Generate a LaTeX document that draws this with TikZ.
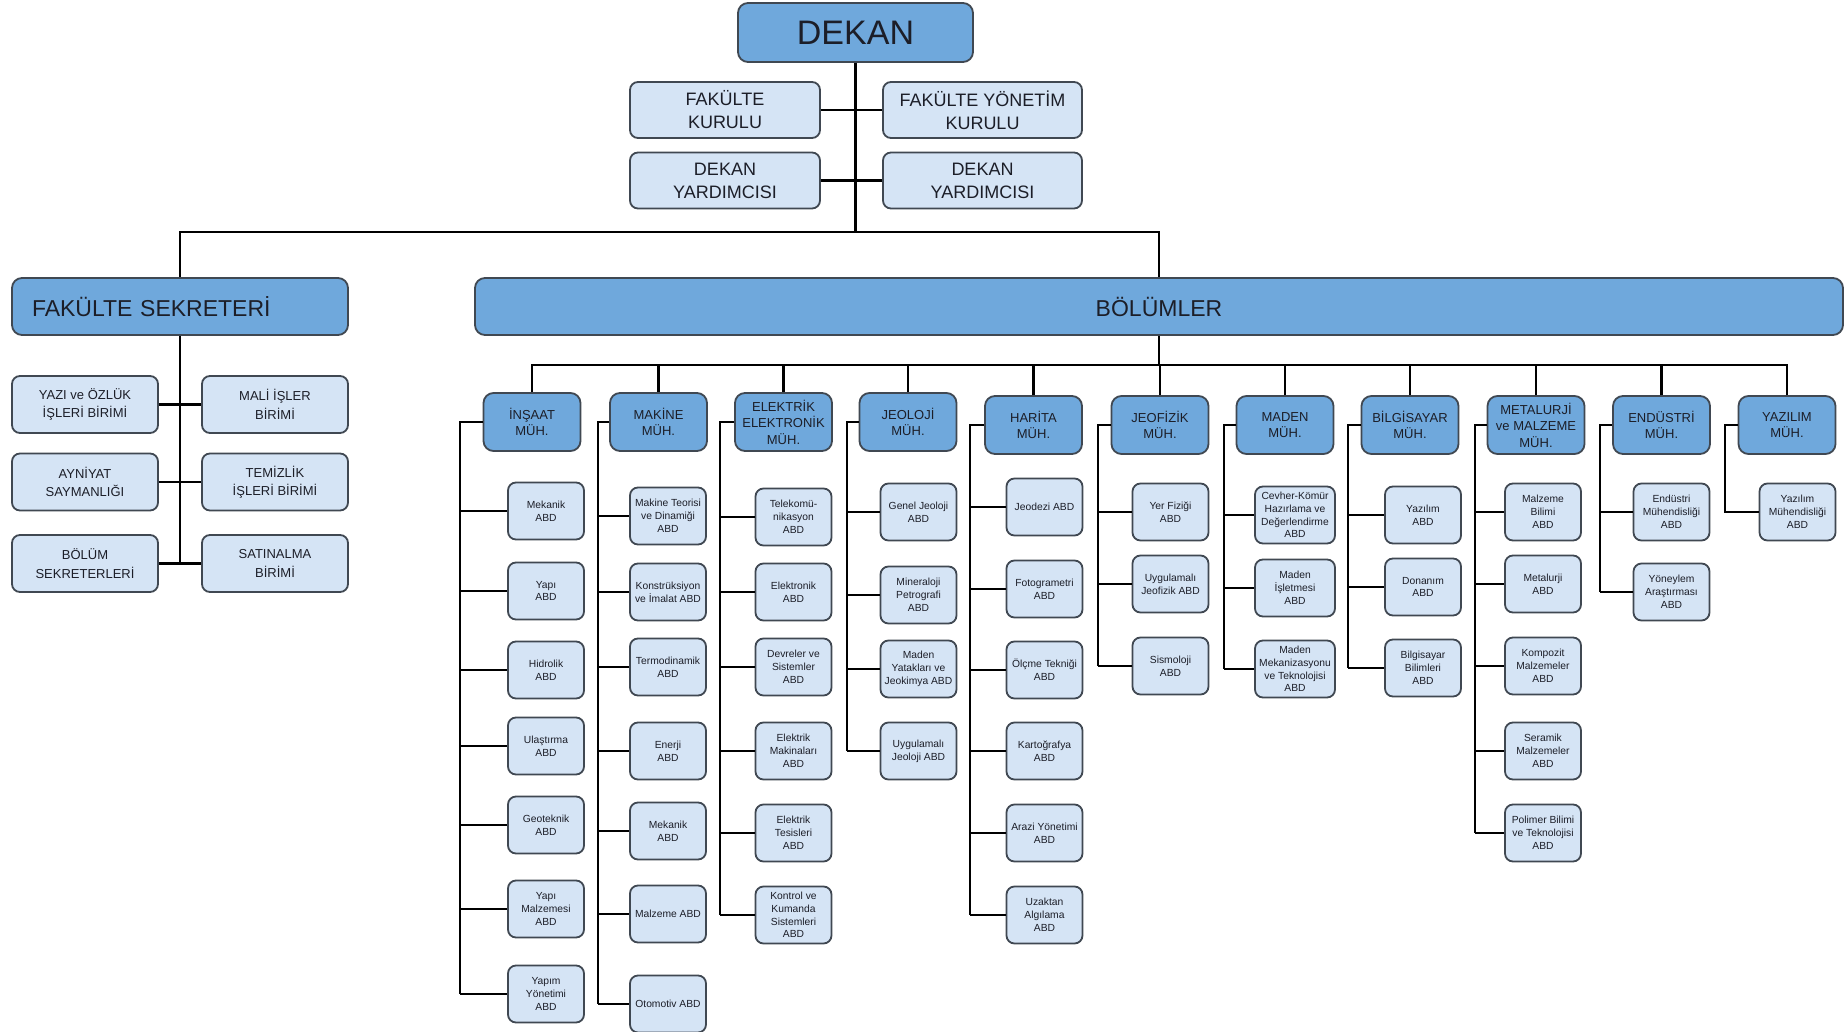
\documentclass[tikz,border=0pt]{standalone}
\usepackage{fontspec}
\setmainfont{Liberation Sans}
\definecolor{darkc}{RGB}{111,168,220}
\definecolor{lightc}{RGB}{213,228,245}
\definecolor{bordc}{RGB}{64,72,82}
\definecolor{txtc}{RGB}{28,30,40}
\begin{document}
\begin{tikzpicture}[x=1pt,y=-1pt,
  box/.style={draw=bordc, line width=1.8pt, rounded corners=8pt, align=center, inner sep=1pt, text=txtc},
  dekanbox/.style={box, fill=darkc, minimum width=235pt, minimum height=59pt, rounded corners=10pt, font=\fontsize{34}{36}\selectfont},
  upperbox/.style={box, fill=lightc, minimum height=56pt, font=\fontsize{18}{23}\selectfont},
  headbox/.style={box, fill=darkc, minimum height=57pt, rounded corners=10pt, font=\fontsize{23}{26}\selectfont},
  secrbox/.style={box, fill=lightc, minimum width=146pt, minimum height=57pt, font=\fontsize{13}{18.5}\selectfont},
  deptbox/.style={box, fill=darkc, minimum width=97pt, minimum height=58pt, rounded corners=10pt, font=\fontsize{13}{16.5}\selectfont},
  subbox/.style={box, fill=lightc, minimum width=76pt, minimum height=57pt, font=\fontsize{10.3}{12.8}\selectfont},
  conn/.style={line width=2.2pt, black}]
\fill[white] (0,0) rectangle (1845,1031);
\useasboundingbox (0,0) rectangle (1845,1031);

% top
\node[dekanbox] (dekan) at (855.5,32.5) {DEKAN};
\node[upperbox, minimum width=190pt] (fk) at (725,110) {FAKÜLTE\\KURULU};
\node[upperbox, minimum width=199pt] (fyk) at (982.5,110) {FAKÜLTE YÖNETİM\\KURULU};
\node[upperbox, minimum width=190pt] (dy1) at (725,180.5) {DEKAN\\YARDIMCISI};
\node[upperbox, minimum width=199pt] (dy2) at (982.5,180.5) {DEKAN\\YARDIMCISI};
\coordinate (tb) at (855.5,232);
\draw[conn] (dekan.south) -- (tb);
\draw[conn] (fk.east) -- (fyk.west);
\draw[conn] (dy1.east) -- (dy2.west);

% secretary
\node[headbox, text width=296pt, inner xsep=20pt, align=left] (fs) at (180,306.5) {FAKÜLTE SEKRETERİ};
\node[secrbox] (s1l) at (85,404.5) {YAZI ve ÖZLÜK\\İŞLERİ BİRİMİ};
\node[secrbox] (s1r) at (275,404.5) {MALİ İŞLER\\BİRİMİ};
\node[secrbox] (s2l) at (85,482) {AYNİYAT\\SAYMANLIĞI};
\node[secrbox] (s2r) at (275,482) {TEMİZLİK\\İŞLERİ BİRİMİ};
\node[secrbox] (s3l) at (85,563.5) {BÖLÜM\\SEKRETERLERİ};
\node[secrbox] (s3r) at (275,563.5) {SATINALMA\\BİRİMİ};
\draw[conn] (fs.south) -- (fs.south |- s3l.east);
\draw[conn] (s1l.east) -- (s1r.west);
\draw[conn] (s2l.east) -- (s2r.west);
\draw[conn] (s3l.east) -- (s3r.west);

% departments bar
\node[headbox, minimum width=1368pt, font=\fontsize{23}{26}\selectfont] (bol) at (1159,306.5) {BÖLÜMLER};
\draw[conn] (fs.north) |- (tb);
\draw[conn] (bol.north) |- (tb);
\coordinate (bb) at (1159,365);
\draw[conn] (bol.south) -- (bb);

% department heads
\node[deptbox] (ins) at (532,422) {İNŞAAT\\MÜH.};
\node[deptbox] (mak) at (658.5,422) {MAKİNE\\MÜH.};
\node[deptbox] (ele) at (783.5,422) {ELEKTRİK\\ELEKTRONİK\\MÜH.};
\node[deptbox] (jeo) at (908,422) {JEOLOJİ\\MÜH.};
\node[deptbox] (har) at (1033.5,425) {HARİTA\\MÜH.};
\node[deptbox] (jef) at (1160,425) {JEOFİZİK\\MÜH.};
\node[deptbox] (mad) at (1285,425) {MADEN\\MÜH.};
\node[deptbox] (bil) at (1410,425) {BİLGİSAYAR\\MÜH.};
\node[deptbox] (met) at (1536,425) {METALURJİ\\ve MALZEME\\MÜH.};
\node[deptbox] (end) at (1661.5,425) {ENDÜSTRİ\\MÜH.};
\node[deptbox] (yaz) at (1787,425) {YAZILIM\\MÜH.};
\foreach \d in {ins,mak,ele,jeo,har,jef,mad,bil,met,end,yaz}
  \draw[conn] (\d.north) |- (bb);

% spines
\coordinate (insS) at (460,422);
\coordinate (makS) at (598,422);
\coordinate (eleS) at (720,422);
\coordinate (jeoS) at (847,422);
\coordinate (harS) at (970,425);
\coordinate (jefS) at (1098,425);
\coordinate (madS) at (1224,425);
\coordinate (bilS) at (1348,425);
\coordinate (metS) at (1475,425);
\coordinate (endS) at (1600,425);
\coordinate (yazS) at (1725,425);

% İnşaat
\foreach \i/\y/\t in {1/511/{Mekanik\\ABD},2/591/{Yapı\\ABD},3/670/{Hidrolik\\ABD},4/746/{Ulaştırma\\ABD},5/825/{Geoteknik\\ABD},6/909/{Yapı\\Malzemesi\\ABD},7/994/{Yapım\\Yönetimi\\ABD}}{
  \node[subbox] (ins\i) at (546,\y) {\t};
  \draw[conn] (insS |- ins\i.west) -- (ins\i.west);}
\draw[conn] (ins.west) -- (insS) -- (insS |- ins7.west);

% Makine
\foreach \i/\y/\t in {1/516/{Makine Teorisi\\ve Dinamiği\\ABD},2/592/{Konstrüksiyon\\ve İmalat ABD},3/667/{Termodinamik\\ABD},4/751/{Enerji\\ABD},5/831/{Mekanik\\ABD},6/914/{Malzeme ABD},7/1004/{Otomotiv ABD}}{
  \node[subbox] (mak\i) at (668,\y) {\t};
  \draw[conn] (makS |- mak\i.west) -- (mak\i.west);}
\draw[conn] (mak.west) -- (makS) -- (makS |- mak7.west);

% Elektrik
\foreach \i/\y/\t in {1/517/{Telekomü-\\nikasyon\\ABD},2/592/{Elektronik\\ABD},3/667/{Devreler ve\\Sistemler\\ABD},4/751/{Elektrik\\Makinaları\\ABD},5/833/{Elektrik\\Tesisleri\\ABD},6/915/{Kontrol ve\\Kumanda\\Sistemleri\\ABD}}{
  \node[subbox] (ele\i) at (793.5,\y) {\t};
  \draw[conn] (eleS |- ele\i.west) -- (ele\i.west);}
\draw[conn] (ele.west) -- (eleS) -- (eleS |- ele6.west);

% Jeoloji
\foreach \i/\y/\t in {1/512/{Genel Jeoloji\\ABD},2/595/{Mineraloji\\Petrografi\\ABD},3/669/{Maden\\Yatakları ve\\Jeokimya ABD},4/751/{Uygulamalı\\Jeoloji ABD}}{
  \node[subbox] (jeo\i) at (918.5,\y) {\t};
  \draw[conn] (jeoS |- jeo\i.west) -- (jeo\i.west);}
\draw[conn] (jeo.west) -- (jeoS) -- (jeoS |- jeo4.west);

% Harita
\foreach \i/\y/\t in {1/507/{Jeodezi ABD},2/589/{Fotogrametri\\ABD},3/670/{Ölçme Tekniği\\ABD},4/751/{Kartoğrafya\\ABD},5/833/{Arazi Yönetimi\\ABD},6/915/{Uzaktan\\Algılama\\ABD}}{
  \node[subbox] (har\i) at (1044.5,\y) {\t};
  \draw[conn] (harS |- har\i.west) -- (har\i.west);}
\draw[conn] (har.west) -- (harS) -- (harS |- har6.west);

% Jeofizik
\foreach \i/\y/\t in {1/512/{Yer Fiziği\\ABD},2/584/{Uygulamalı\\Jeofizik ABD},3/666/{Sismoloji\\ABD}}{
  \node[subbox] (jef\i) at (1170.5,\y) {\t};
  \draw[conn] (jefS |- jef\i.west) -- (jef\i.west);}
\draw[conn] (jef.west) -- (jefS) -- (jefS |- jef3.west);

% Maden
\foreach \i/\y/\t in {1/515/{Cevher-Kömür\\Hazırlama ve\\Değerlendirme\\ABD},2/588/{Maden\\İşletmesi\\ABD},3/669/{Maden\\Mekanizasyonu\\ve Teknolojisi\\ABD}}{
  \node[subbox, minimum width=80pt] (mad\i) at (1295,\y) {\t};
  \draw[conn] (madS |- mad\i.west) -- (mad\i.west);}
\draw[conn] (mad.west) -- (madS) -- (madS |- mad3.west);

% Bilgisayar
\foreach \i/\y/\t in {1/515/{Yazılım\\ABD},2/587/{Donanım\\ABD},3/668/{Bilgisayar\\Bilimleri\\ABD}}{
  \node[subbox] (bil\i) at (1423,\y) {\t};
  \draw[conn] (bilS |- bil\i.west) -- (bil\i.west);}
\draw[conn] (bil.west) -- (bilS) -- (bilS |- bil3.west);

% Metalurji
\foreach \i/\y/\t in {1/512/{Malzeme\\Bilimi\\ABD},2/584/{Metalurji\\ABD},3/666/{Kompozit\\Malzemeler\\ABD},4/751/{Seramik\\Malzemeler\\ABD},5/833/{Polimer Bilimi\\ve Teknolojisi\\ABD}}{
  \node[subbox] (met\i) at (1543,\y) {\t};
  \draw[conn] (metS |- met\i.west) -- (met\i.west);}
\draw[conn] (met.west) -- (metS) -- (metS |- met5.west);

% Endüstri
\foreach \i/\y/\t in {1/512/{Endüstri\\Mühendisliği\\ABD},2/592/{Yöneylem\\Araştırması\\ABD}}{
  \node[subbox] (end\i) at (1671.5,\y) {\t};
  \draw[conn] (endS |- end\i.west) -- (end\i.west);}
\draw[conn] (end.west) -- (endS) -- (endS |- end2.west);

% Yazılım
\node[subbox] (yaz1) at (1797.5,512) {Yazılım\\Mühendisliği\\ABD};
\draw[conn] (yaz.west) -- (yazS) |- (yaz1.west);
\end{tikzpicture}
\end{document}
